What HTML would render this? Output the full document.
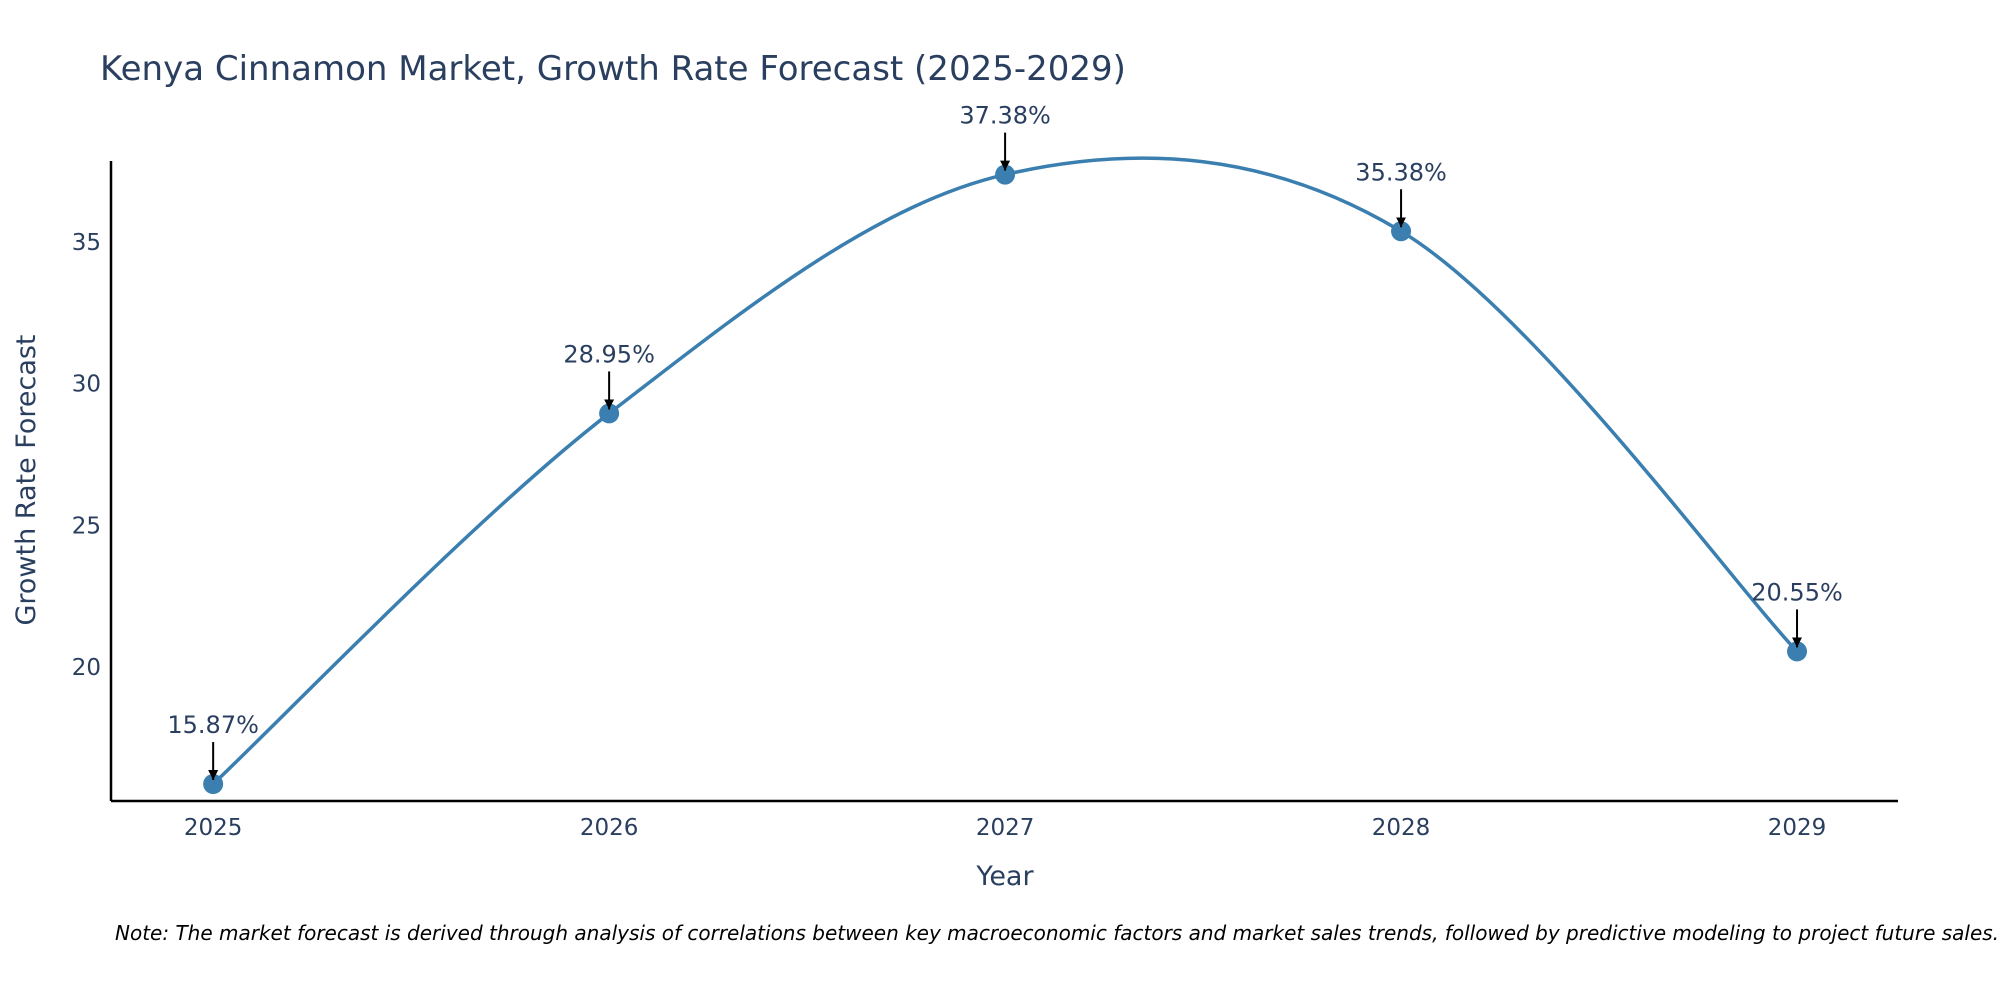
<!DOCTYPE html>
<html><head><meta charset="utf-8"><style>
body{margin:0;background:#fff;}
svg text{font-family:"DejaVu Sans","Liberation Sans",sans-serif;fill:#2a3f5f;}
</style></head><body>
<svg id="chart" width="2000" height="1000" viewBox="0 0 2000 1000" xmlns="http://www.w3.org/2000/svg">
<defs><marker id="ah" viewBox="0 0 10 10" refX="10" refY="5" markerWidth="5" markerHeight="5" orient="auto"><path d="M0,0 L10,5 L0,10 z" fill="#000"/></marker></defs>
<text x="100" y="80" font-size="34">Kenya Cinnamon Market, Growth Rate Forecast (2025-2029)</text>
<g id="axes"></g>
<g id="marks"></g>
<text transform="translate(35,480) rotate(-90)" text-anchor="middle" font-size="27">Growth Rate Forecast</text>
<text x="1005" y="885" text-anchor="middle" font-size="27">Year</text>
<text x="115" y="940" font-size="20" font-style="italic" style="fill:#000">Note: The market forecast is derived through analysis of correlations between key macroeconomic factors and market sales trends, followed by predictive modeling to project future sales.</text>
</svg>
<script>
const years = [2025, 2026, 2027, 2028, 2029];
const growth = [15.87, 28.95, 37.38, 35.38, 20.55];
const yTicks = [20, 25, 30, 35];
const NS = "http://www.w3.org/2000/svg";
const X0 = 111, X1 = 1898, Y0 = 801, Y1 = 161;
const xMin = 2024.742, xMax = 2029.255, yMin = 15.27, yMax = 37.86;
const xs = v => X0 + (v - xMin) / (xMax - xMin) * (X1 - X0);
const ys = v => Y0 - (v - yMin) / (yMax - yMin) * (Y0 - Y1);
function mk(tag, attrs, parent) {
  const e = document.createElementNS(NS, tag);
  for (const k in attrs) e.setAttribute(k, attrs[k]);
  parent.appendChild(e);
  return e;
}
const axes = document.getElementById('axes'), marks = document.getElementById('marks');
let yl = mk('line', {x1: X0, y1: Y0, x2: X0, y2: Y1, stroke: '#000', 'stroke-width': 2.5}, axes);


let xl = mk('line', {x1: X0, y1: Y0, x2: X1, y2: Y0, stroke: '#000', 'stroke-width': 2.5}, axes);


yTicks.forEach(t => {
  const e = mk('text', {x: X0 - 10, y: ys(t) + 8, 'text-anchor': 'end', 'font-size': 23}, axes);
  e.textContent = t;
  
  
});
years.forEach(t => {
  const e = mk('text', {x: xs(t), y: Y0 + 34, 'text-anchor': 'middle', 'font-size': 23}, axes);
  e.textContent = t;
  
  
});
const pts = years.map((y, i) => [xs(y), ys(growth[i])]);
let d = 'M' + pts[0][0] + ',' + pts[0][1];
for (let i = 0; i < pts.length - 1; i++) {
  const p0 = pts[Math.max(0, i - 1)], p1 = pts[i], p2 = pts[i + 1], p3 = pts[Math.min(pts.length - 1, i + 2)];
  const c1 = [p1[0] + (p2[0] - p0[0]) / 6, p1[1] + (p2[1] - p0[1]) / 6];
  const c2 = [p2[0] - (p3[0] - p1[0]) / 6, p2[1] - (p3[1] - p1[1]) / 6];
  d += ' C' + c1[0] + ',' + c1[1] + ' ' + c2[0] + ',' + c2[1] + ' ' + p2[0] + ',' + p2[1];
}
const line = mk('path', {d: d, fill: 'none', stroke: '#3a7fb0', 'stroke-width': 3.5}, marks);


pts.forEach((p, i) => {
  const c = mk('circle', {cx: p[0], cy: p[1], r: 10, fill: '#3a7fb0'}, marks);
  
  
  const a = mk('line', {x1: p[0], y1: p[1] - 42, x2: p[0], y2: p[1] - 4, stroke: '#000', 'stroke-width': 2, 'marker-end': 'url(#ah)'}, marks);
  
  
  const t = mk('text', {x: p[0], y: p[1] - 51, 'text-anchor': 'middle', 'font-size': 24}, marks);
  t.textContent = growth[i].toFixed(2) + '%';
  
  
});
</script>
</body></html>
